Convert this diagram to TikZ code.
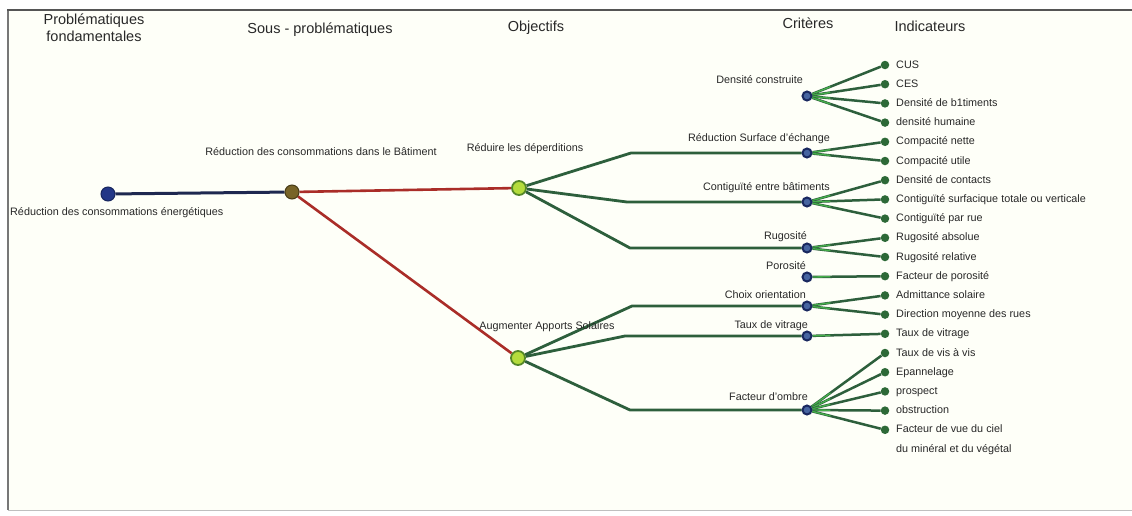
\documentclass[tikz,border=0pt]{standalone}
\usepackage{fontspec}
\setmainfont{Liberation Sans}
\usetikzlibrary{calc}
\pgfdeclarelayer{bg}
\pgfdeclarelayer{edges}
\pgfsetlayers{bg,edges,main}

\definecolor{paper}{RGB}{254,255,248}
\definecolor{framegray}{RGB}{85,85,85}
\definecolor{rootblue}{RGB}{35,55,135}
\definecolor{navyline}{RGB}{30,40,80}
\definecolor{olivebrown}{RGB}{120,100,40}
\definecolor{redline}{RGB}{170,45,40}
\definecolor{lime}{RGB}{180,220,60}
\definecolor{limeedge}{RGB}{85,135,40}
\definecolor{treegreen}{RGB}{45,95,60}
\definecolor{brightgreen}{RGB}{70,175,75}
\definecolor{critblue}{RGB}{25,40,95}
\definecolor{critfill}{RGB}{70,100,160}
\definecolor{dotgreen}{RGB}{45,105,55}
\definecolor{txt}{RGB}{40,40,40}

\tikzset{
  x=1pt, y=-1pt,
  rootnode/.style={circle, fill=rootblue, draw=rootblue!70!black, line width=1pt, minimum size=14pt, inner sep=0pt},
  subnode/.style={circle, fill=olivebrown, draw=olivebrown!60!black, line width=1pt, minimum size=14pt, inner sep=0pt},
  objnode/.style={circle, fill=lime, draw=limeedge, line width=1.8pt, minimum size=14pt, inner sep=0pt},
  critnode/.style={circle, fill=critfill, draw=critblue, line width=2pt, minimum size=9pt, inner sep=0pt},
  inddot/.style={circle, fill=dotgreen, minimum size=8.5pt, inner sep=0pt},
  lab/.style={font=\fontsize{10.8}{13}\selectfont, text=txt, inner sep=0pt},
  indlab/.style={font=\fontsize{10.8}{13}\selectfont, text=txt, inner sep=0pt, anchor=base west},
  head/.style={font=\fontsize{14.5}{17}\selectfont, text=txt, inner sep=0pt, align=center},
  rootedge/.style={navyline, line width=3pt},
  rededge/.style={redline, line width=2.6pt},
  branch/.style={treegreen, line width=2.8pt, line join=round},
  leaf/.style={treegreen, line width=2.5pt},
  glow/.style={brightgreen, line width=1.3pt},
}

\begin{document}
\begin{tikzpicture}
\useasboundingbox (0,0) rectangle (1132,515);

% page and frame
\begin{pgfonlayer}{bg}
  \fill[white] (0,0) rectangle (1132,515);
  \fill[paper] (8,10) rectangle (1132,510);
  \draw[black!25, line width=1pt] (8,510) -- (1132,510);
  \draw[framegray!80, line width=1.5pt] (8,10) -- (8,510);
  \draw[framegray, line width=2pt] (7,10) -- (1132,10);
\end{pgfonlayer}

% column headings
\node[head, anchor=north] (h1) at (94,14) {Problématiques\\fondamentales};
\node[head, anchor=base] (h2) at (320,33) {Sous - problématiques};
\node[head, anchor=base] (h3) at (536,31) {Objectifs};
\node[head, anchor=base] (h4) at (808,28) {Critères};
\node[head, anchor=base] (h5) at (930,31) {Indicateurs};

% main nodes
\node[rootnode] (root) at (108,194) {};
\node[subnode]  (sub)  at (292,192) {};
\node[objnode]  (o1)   at (519,188) {};
\node[objnode]  (o2)   at (518,358) {};

\node[lab, anchor=base west] (lroot) at (10,215) {Réduction des consommations énergétiques};
\node[lab, anchor=base] (lsub) at (321,155) {Réduction des consommations dans le Bâtiment};
\node[lab, anchor=base] (lo1) at (525,151) {Réduire les déperditions};
\node[lab, anchor=base] (lo2) at (547,329) {Augmenter Apports Solaires};

% criteria
\node[critnode] (c1) at (807,96)  {};
\node[critnode] (c2) at (807,153) {};
\node[critnode] (c3) at (807,202) {};
\node[critnode] (c4) at (807,248) {};
\node[critnode] (c5) at (807,277) {};
\node[critnode] (c6) at (807,306) {};
\node[critnode] (c7) at (807,336) {};
\node[critnode] (c8) at (807,410) {};

\node[lab, anchor=base east] (lc1) at (803,83)  {Densité construite};
\node[lab, anchor=base east] (lc2) at (830,141) {Réduction Surface d'échange};
\node[lab, anchor=base east] (lc3) at (830,190) {Contiguïté entre bâtiments};
\node[lab, anchor=base east] (lc4) at (807,239) {Rugosité};
\node[lab, anchor=base east] (lc5) at (806,269) {Porosité};
\node[lab, anchor=base east] (lc6) at (806,298) {Choix orientation};
\node[lab, anchor=base east] (lc7) at (808,328) {Taux de vitrage};
\node[lab, anchor=base east] (lc8) at (808,400) {Facteur d'ombre};

% indicators, one every 19.2pt
\foreach \t [count=\k from 0] in {CUS, CES, Densité de b1timents, densité humaine,
  Compacité nette, Compacité utile, Densité de contacts,
  Contiguïté surfacique totale ou verticale, Contiguïté par rue,
  Rugosité absolue, Rugosité relative, Facteur de porosité,
  Admittance solaire, Direction moyenne des rues, Taux de vitrage,
  Taux de vis à vis, Epannelage, prospect, obstruction,
  Facteur de vue du ciel} {
  \pgfmathsetmacro{\yy}{65+19.2*\k}
  \node[inddot] (i\k) at (885,\yy) {};
  \node[indlab] (li\k) at (896,\yy+3) {\t};
}
\node[indlab] (li20) at (896,65+19.2*20+3) {du minéral et du végétal};

% bend points of the objective branches
\coordinate (b2) at (631,153);
\coordinate (b3) at (627,202);
\coordinate (b4) at (630,248);
\coordinate (b6) at (632,306);
\coordinate (b7) at (625,336);
\coordinate (b8) at (630,410);

\begin{pgfonlayer}{edges}
  \draw[rootedge] (root) -- (sub);
  \draw[rededge] (sub) -- (o1);
  \draw[rededge] (sub) -- (o2);

  \draw[branch] (o1) -- (b2) -- (c2);
  \draw[branch] (o1) -- (b3) -- (c3);
  \draw[branch] (o1) -- (b4) -- (c4);
  \draw[branch] (o2) -- (b6) -- (c6);
  \draw[branch] (o2) -- (b7) -- (c7);
  \draw[branch] (o2) -- (b8) -- (c8);

  \foreach \c/\a/\b in {c1/0/3, c2/4/5, c3/6/8, c4/9/10, c5/11/11, c6/12/13, c7/14/14, c8/15/19} {
    \foreach \k in {\a,...,\b} {
      \draw[leaf] (\c) -- (i\k);
      \draw[glow] (\c) -- ($(\c)!0.3!(i\k)$);
    }
  }
\end{pgfonlayer}
\end{tikzpicture}
\end{document}
